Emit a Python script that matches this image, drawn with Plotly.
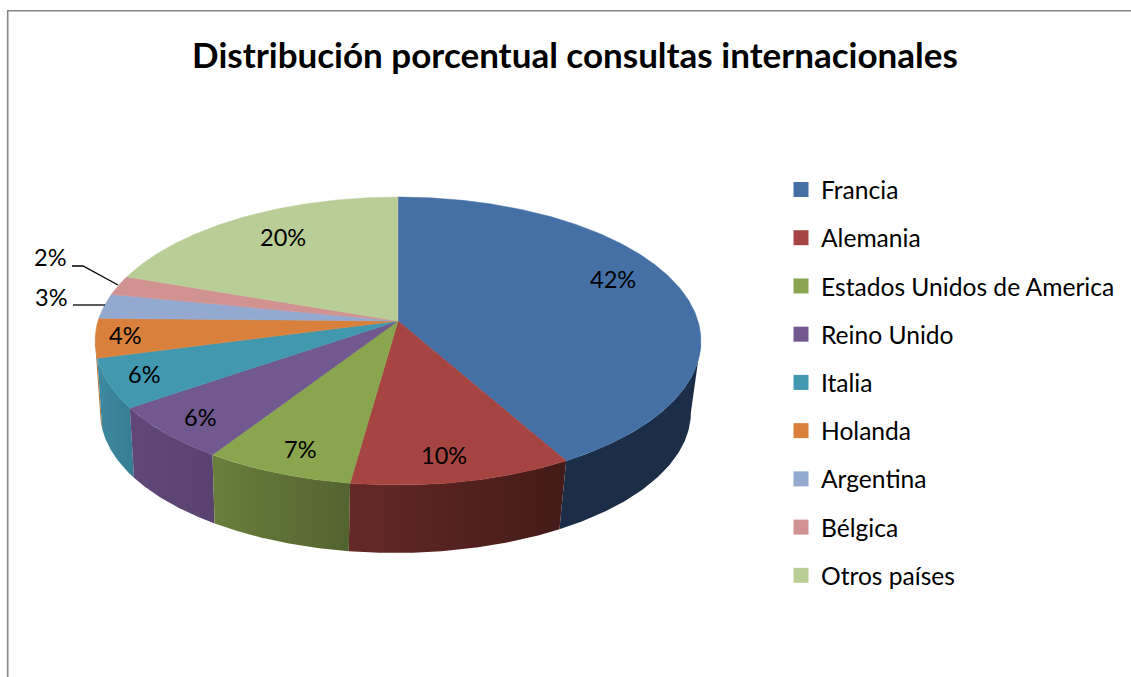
import numpy as np
import plotly.graph_objects as go

# ---- data ----
title_text = "Distribución porcentual consultas internacionales"
categories = ["Francia", "Alemania", "Estados Unidos de America", "Reino Unido",
              "Italia", "Holanda", "Argentina", "Bélgica", "Otros países"]
shares = [41.8, 10.4, 7.0, 6.2, 5.5, 4.4, 2.8, 2.2, 19.7]

# ---- styles ----
top_colors = ["#4570A6", "#A64442", "#89A54E", "#71588F", "#4198AF",
              "#D8803C", "#93A9CF", "#D19392", "#B9CD96"]
wall_colors = [("#1B2D47", "#1B2D47"), ("#652927", "#431A18"), ("#6A7F3C", "#536330"),
               ("#5F4878", "#5A4270"), ("#3E8AA0", "#357D92"), ("#B56A2E", "#B56A2E"),
               ("#6F83A3", "#6F83A3"), ("#A07070", "#A07070"), ("#8D9D72", "#8D9D72")]
FONT = "Lato, Carlito, Calibri, sans-serif"

# ---- projection of the tilted disc onto the page (axes run in page pixels) ----
W, H = 1131, 677
AX, AY = 398.0, 321.0     # apex of the pie
RX, RY = 300.0, 141.2     # projected radii
K = 0.139                 # perspective strength
DROP, SHRINK, SHIFT = 72.0, 0.975, -2.5  # thickness of the disc, lower rim scale and shift
WALL_FROM, WALL_TO = 98.0, 262.0


def rim(deg, lower=False):
    t = np.radians(deg)
    u, v = np.sin(t), np.cos(t)
    d = 1 + K * v
    s, off, dx = (SHRINK, DROP, SHIFT) if lower else (1.0, 0.0, 0.0)
    return AX + dx + s * RX * u / d, AY + off - s * RY * v / d


bounds = np.concatenate([[0.0], np.cumsum(shares)]) * 360.0 / sum(shares)
fig = go.Figure()

# side walls, drawn from the back towards the front
order = sorted(range(len(shares)), key=lambda i: -abs((bounds[i] + bounds[i + 1]) / 2 - 180))
for i in order:
    a, b = max(bounds[i], WALL_FROM), min(bounds[i + 1], WALL_TO)
    if b <= a:
        continue
    th = np.linspace(a, b, 80)
    xu, yu = rim(th)
    xl, yl = rim(th[::-1], lower=True)
    fig.add_trace(go.Scatter(
        x=np.r_[xu, xl], y=np.r_[yu, yl], mode="lines", line=dict(width=0),
        fill="toself",
        fillgradient=dict(type="horizontal",
                          colorscale=[[0, wall_colors[i][0]], [1, wall_colors[i][1]]]),
        hoverinfo="skip", showlegend=False))

# top face
for i, c in enumerate(categories):
    th = np.linspace(bounds[i], bounds[i + 1], max(8, int(bounds[i + 1] - bounds[i]) * 2))
    xs, ys = rim(th)
    fig.add_trace(go.Scatter(
        x=np.r_[AX, xs, AX], y=np.r_[AY, ys, AY], mode="lines",
        line=dict(width=0.5, color=top_colors[i]), fill="toself",
        fillcolor=top_colors[i], name=c, text=f"{c}: {shares[i]:.0f}%",
        hoverinfo="text", showlegend=False))

# legend entries
for i, c in enumerate(categories):
    fig.add_trace(go.Scatter(
        x=[None], y=[None], mode="markers", name=c, legendgroup=c,
        marker=dict(symbol="square", size=15, color=top_colors[i])))

# data labels
label_xy = [(613, 279), (444, 455), (300, 449), (200, 417), (144, 374),
            (125, 335), (51, 297), (50, 257), (283, 237)]
for (lx, ly), s in zip(label_xy, shares):
    fig.add_annotation(x=lx, y=ly, text=f"{s:.0f}%", showarrow=False,
                       font=dict(family=FONT, size=23.5, color="#000000"))

# leader lines and chart border
shapes = [
    dict(type="path", path="M 72 266 L 83 266 L 118 285", line=dict(color="#000000", width=1.3)),
    dict(type="path", path="M 73 305 L 105 305", line=dict(color="#000000", width=1.3)),
    dict(type="path", path=f"M 7.7 {H} L 7.7 10.7 L {W} 10.7", line=dict(color="#868686", width=1.6)),
]

fig.update_layout(
    width=W, height=H, margin=dict(l=0, r=0, t=0, b=0),
    paper_bgcolor="#FFFFFF", plot_bgcolor="#FFFFFF",
    title=dict(text=f"<b>{title_text}</b>", x=575 / W, xanchor="center",
               y=1 - 56 / H, yanchor="middle",
               font=dict(family=FONT, size=35, color="#000000")),
    xaxis=dict(range=[0, W], visible=False, fixedrange=True),
    yaxis=dict(range=[H, 0], visible=False, fixedrange=True),
    shapes=shapes,
    showlegend=True,
    legend=dict(x=781 / W, y=1 - 167 / H, xanchor="left", yanchor="top",
                font=dict(family=FONT, size=24.6, color="#000000"),
                tracegroupgap=13.25, itemwidth=30, bgcolor="rgba(0,0,0,0)",
                borderwidth=0),
)

fig.write_html("out.html", config={"displayModeBar": False},
               post_script="document.body.style.margin='0';document.body.style.overflow='hidden';")
